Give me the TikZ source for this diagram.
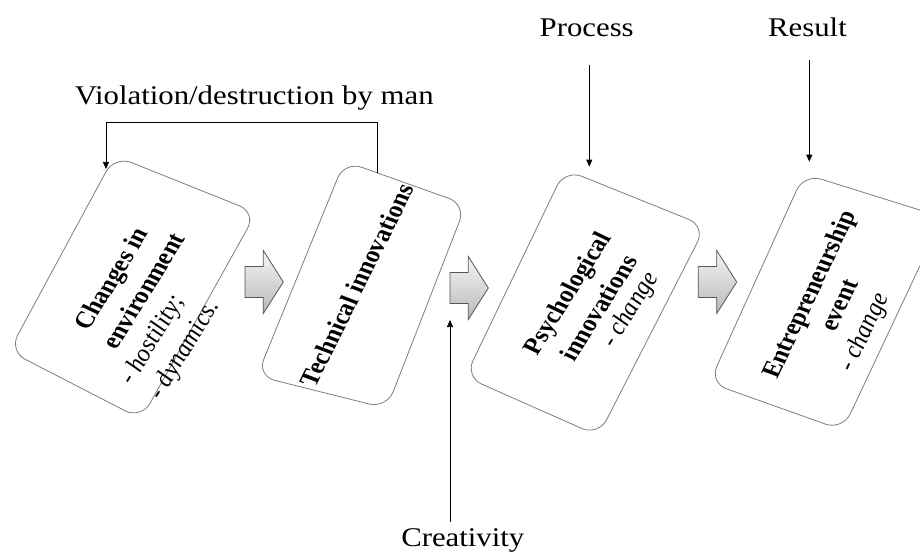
\documentclass[tikz,border=0pt]{standalone}
\usepackage{fontspec}
\setmainfont{Liberation Serif}
\newfontfamily\lblfont[FakeStretch=1.14]{Liberation Serif}
\usetikzlibrary{arrows.meta}
\definecolor{boxgray}{RGB}{125,125,125}
\definecolor{arrowedge}{RGB}{85,85,85}
\newcommand\boxtext[6]{% name, x, y, angle, style, text
  \begin{scope}[shift={(#2,#3)}]
    \node[#5, xscale=1.14, rotate=#4] (#1) at (0,0) {#6};
  \end{scope}}
\newcommand\blockarrow[4]{% x0, xhead, xtip, yc
  \shade[blk] (#1,{#4-15.5}) -- (#2,{#4-15.5}) -- (#2,{#4-31.5}) -- (#3,#4)
    -- (#2,{#4+31.5}) -- (#2,{#4+15.5}) -- (#1,{#4+15.5}) -- cycle;}
\begin{document}
\begin{tikzpicture}[x=1pt,y=-1pt,
  boxline/.style={draw=boxgray, line width=0.8pt, rounded corners=18pt},
  conn/.style={draw=black, line width=0.7pt, -{Triangle[length=7pt,width=6pt]}},
  lbl/.style={font=\lblfont\fontsize{27}{30}\selectfont, inner sep=0pt, anchor=base},
  boldtxt/.style={font=\fontsize{23.5}{27}\selectfont\bfseries, inner sep=0pt},
  italtxt/.style={font=\fontsize{23.5}{27}\selectfont\itshape, inner sep=0pt},
  blk/.style={draw=arrowedge, line width=0.8pt, top color=gray!8, bottom color=gray!55}
]
\useasboundingbox (0,0) rectangle (920,553);
\clip (0,0) rectangle (920,553);

% box corners
\coordinate (b1t) at (114.6,155.8); \coordinate (b1r) at (256.3,212.6);
\coordinate (b1b) at (141.2,419.1); \coordinate (b1l) at (9.1,351);
\coordinate (b2t) at (344.5,161.2); \coordinate (b2r) at (466,204.5);
\coordinate (b2b) at (386.7,408.4); \coordinate (b2l) at (257,375.9);
\coordinate (b3t) at (564.9,169.5); \coordinate (b3r) at (705.6,226.2);
\coordinate (b3b) at (598.4,435.8); \coordinate (b3l) at (465.2,376.8);
\coordinate (b4t) at (804,173.8);   \coordinate (b4r) at (942.8,217.2);
\coordinate (b4b) at (842.6,430.2); \coordinate (b4l) at (709.4,382.7);

\draw[boxline] (b1t) -- (b1r) -- (b1b) -- (b1l) -- cycle;
\draw[boxline] (b2t) -- (b2r) -- (b2b) -- (b2l) -- cycle;
\draw[boxline] (b3t) -- (b3r) -- (b3b) -- (b3l) -- cycle;
\draw[boxline] (b4t) -- (b4r) -- (b4b) -- (b4l) -- cycle;

% box texts
\boxtext{t1a}{113.3}{280}{61.7}{boldtxt}{Changes in}
\boxtext{t1b}{143.3}{290.8}{61.7}{boldtxt}{environment}
\boxtext{t1c}{153.3}{340}{61.7}{italtxt}{- hostility;}
\boxtext{t1d}{185}{350}{61.7}{italtxt}{- dynamics.}

\boxtext{t2a}{356.7}{285}{66.6}{boldtxt}{Technical innovations}

\boxtext{t3a}{569.2}{294.2}{61.3}{boldtxt}{Psychological}
\boxtext{t3b}{598.3}{307.8}{61.3}{boldtxt}{innovations}
\boxtext{t3c}{630.8}{310}{61.3}{italtxt}{- change}

\boxtext{t4a}{810.8}{295}{67.2}{boldtxt}{Entrepreneurship}
\boxtext{t4b}{840}{305.8}{67.2}{boldtxt}{event}
\boxtext{t4c}{865}{332.5}{67.2}{italtxt}{- change}

% block arrows
\blockarrow{245}{263.3}{283.3}{282}
\blockarrow{450}{468.3}{488.3}{288}
\blockarrow{698.3}{716.7}{736.7}{282}

% labels
\node[lbl] (viol) at (254.2,104.3) {Violation/destruction by man};
\node[lbl] (process) at (586.7,36.7) {Process};
\node[lbl] (result) at (807.5,36.7) {Result};
\node[lbl] (creat) at (462.8,546.5) {Creativity};

% connectors
\coordinate (fbs) at (377.7,173);
\coordinate (fbc) at (377.7,122.7);
\coordinate (fbe) at (106,169);
\draw[conn] (fbs) -- (fbc) -| (fbe);

\coordinate (ps) at (589.3,65);  \coordinate (pe) at (589.3,166.7);
\draw[conn] (ps) -- (pe);
\coordinate (rs) at (809.3,60);  \coordinate (re) at (809.3,161.7);
\draw[conn] (rs) -- (re);
\coordinate (cs) at (450,521.7); \coordinate (ce) at (450,320);
\draw[conn] (cs) -- (ce);
\end{tikzpicture}
\end{document}
